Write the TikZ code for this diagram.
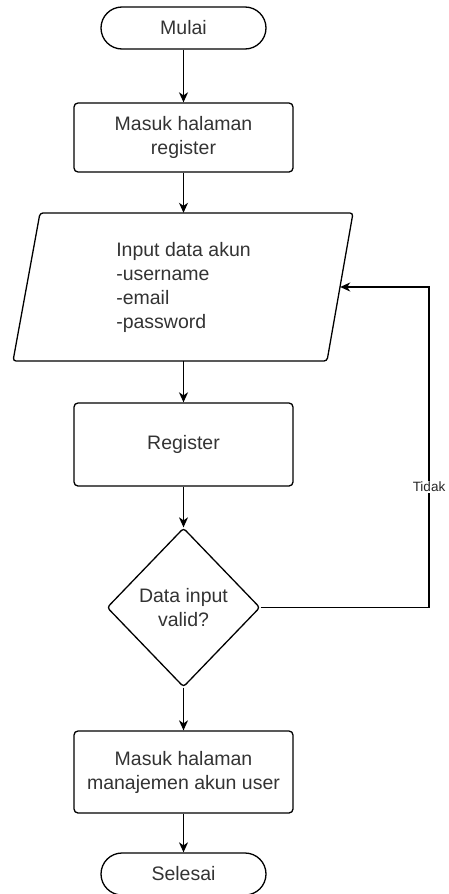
\documentclass[tikz,border=0pt]{standalone}
\usepackage{fontspec}
\setmainfont{Liberation Sans}
\usetikzlibrary{arrows.meta,shapes.geometric}
\begin{document}
\begin{tikzpicture}[x=1pt,y=-1pt,
  every node/.style={font=\fontsize{19.5}{24}\selectfont, text=black!80},
  line/.style={line width=1.3pt, draw=black},
  arr/.style={line, -{Stealth[length=10pt,width=9pt,inset=3pt]}},
  terminal/.style={line, rectangle, rounded corners=21pt, minimum width=165pt, minimum height=42pt, inner sep=0pt},
  procbox/.style={line, rectangle, rounded corners=4pt, minimum width=219pt, inner sep=0pt, align=center},
  decision/.style={line, diamond, rounded corners=3pt, minimum width=153pt, minimum height=159pt, inner sep=0pt, align=center},
  lbl/.style={font=\fontsize{13.5}{16}\selectfont, fill=white, draw=none, inner sep=1.5pt, text=black!85}]
\useasboundingbox (0,0) rectangle (449,894);
\node[terminal] (start) at (183.5,28) {Mulai};
\node[procbox, minimum height=69pt] (reg1) at (183.5,137.5) {Masuk halaman\\register};
\node[rectangle, minimum width=313pt, minimum height=148pt, inner sep=0pt, align=left] (input) at (183.5,287) {Input data akun\\-username\\-email\\-password};
\draw[line, rounded corners=3pt] (40,213) -- (353,213) -- (327,361) -- (13,361) -- cycle;
\node[procbox, minimum height=83pt] (register) at (183.5,444.5) {Register};
\node[decision] (valid) at (183.5,607.5) {Data input\\valid?};
\node[procbox, minimum height=82pt] (manage) at (183.5,772) {Masuk halaman\\manajemen akun user};
\node[terminal] (end) at (183.5,874) {Selesai};
\draw[arr] (start) -- (reg1);
\draw[arr] (reg1) -- (input.north);
\draw[arr] (input.south) -- (register);
\draw[arr] (register) -- (valid);
\draw[arr] (valid) -- (manage);
\draw[arr] (manage) -- (end);
\coordinate (back) at (429,607.5);
\draw[arr] (valid.east) -- (back) |- (input.east);
\node[lbl] (tidak) at (429,487) {Tidak};
\end{tikzpicture}
\end{document}
